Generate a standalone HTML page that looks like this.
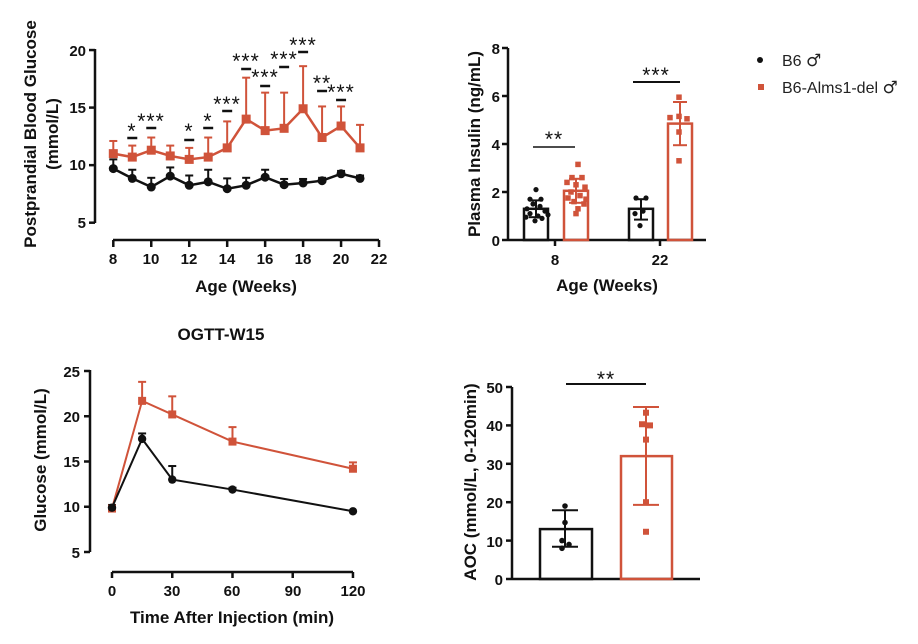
<!DOCTYPE html>
<html><head><meta charset="utf-8"><style>
html,body{margin:0;padding:0;background:#fff}
svg{display:block;font-family:"Liberation Sans",Arial,sans-serif}
.t{font-weight:bold;font-size:15px;fill:#111}
.l{font-weight:bold;font-size:17px;fill:#111}
.s{font-size:21px;fill:#111;text-anchor:middle;letter-spacing:1px}
</style></head><body>
<svg id="c" width="918" height="644" viewBox="0 0 918 644" xmlns="http://www.w3.org/2000/svg">
<g class="t" text-anchor="end">
<text x="86" y="56">20</text><text x="86" y="113">15</text><text x="86" y="170">10</text><text x="86" y="228">5</text>
</g>
<g class="t" text-anchor="middle">
<text x="113" y="264">8</text><text x="151" y="264">10</text><text x="189" y="264">12</text><text x="227" y="264">14</text><text x="265" y="264">16</text><text x="303" y="264">18</text><text x="341" y="264">20</text><text x="379" y="264">22</text>
</g>
<text class="l" x="246" y="292" text-anchor="middle">Age (Weeks)</text>
<text class="l" transform="translate(36,134) rotate(-90)" text-anchor="middle">Postprandial Blood Glucose</text>
<text class="l" transform="translate(58,134) rotate(-90)" text-anchor="middle">(mmol/L)</text>
<g class="s">
<text x="132" y="138">*</text><text x="151" y="128">***</text><text x="189" y="138">*</text><text x="208" y="128">*</text><text x="227" y="111">***</text><text x="246" y="68">***</text><text x="265" y="84">***</text><text x="284" y="66">***</text><text x="303" y="52">***</text><text x="322" y="90">**</text><text x="341" y="99">***</text>
</g>
<g class="t" text-anchor="end">
<text x="500" y="54">8</text><text x="500" y="102">6</text><text x="500" y="150">4</text><text x="500" y="198">2</text><text x="500" y="246">0</text>
</g>
<g class="t" text-anchor="middle"><text x="555" y="265">8</text><text x="660" y="265">22</text></g>
<text class="l" x="607" y="291" text-anchor="middle">Age (Weeks)</text>
<text class="l" transform="translate(480,144) rotate(-90)" text-anchor="middle">Plasma Insulin (ng/mL)</text>
<g class="s"><text x="554" y="146">**</text><text x="656" y="82">***</text></g>
<circle cx="760" cy="60" r="3" fill="#111"/>
<rect x="758" y="84" width="6" height="6" fill="#d0533a"/>
<text x="782" y="66" font-size="16" fill="#222">B6 <tspan font-family="DejaVu Sans" font-size="17">♂</tspan></text>
<text x="782" y="93" font-size="16" fill="#222">B6-Alms1-del <tspan font-family="DejaVu Sans" font-size="17">♂</tspan></text>
<text class="l" x="221" y="340" text-anchor="middle">OGTT-W15</text>
<g class="t" text-anchor="end">
<text x="80" y="377">25</text><text x="80" y="422">20</text><text x="80" y="467">15</text><text x="80" y="512">10</text><text x="80" y="558">5</text>
</g>
<g class="t" text-anchor="middle">
<text x="112" y="596">0</text><text x="172" y="596">30</text><text x="232" y="596">60</text><text x="293" y="596">90</text><text x="353" y="596">120</text>
</g>
<text class="l" x="232" y="623" text-anchor="middle">Time After Injection (min)</text>
<text class="l" transform="translate(46,460) rotate(-90)" text-anchor="middle">Glucose (mmol/L)</text>
<g class="t" text-anchor="end">
<text x="503" y="393">50</text><text x="503" y="431">40</text><text x="503" y="470">30</text><text x="503" y="508">20</text><text x="503" y="547">10</text><text x="503" y="585">0</text>
</g>
<text class="s" x="606" y="386">**</text>
<text class="l" transform="translate(476,482) rotate(-90)" text-anchor="middle">AOC (mmol/L, 0-120min)</text>
<g id="g"></g>
</svg>
<script>
const O="#d0533a",K="#111";let h="";
const L=(a,b,c,d,col,w)=>h+=`<line x1="${a}" y1="${b}" x2="${c}" y2="${d}" stroke="${col}" stroke-width="${w||2}"/>`;
const C=(x,y,r,col)=>h+=`<circle cx="${x}" cy="${y}" r="${r}" fill="${col}"/>`;
const S=(x,y,s,col)=>h+=`<rect x="${x-s/2}" y="${y-s/2}" width="${s}" height="${s}" fill="${col}"/>`;
const P=(pts,col,w)=>h+=`<polyline points="${pts.map(p=>p.join(',')).join(' ')}" fill="none" stroke="${col}" stroke-width="${w||2.5}"/>`;
let y1=v=>222.7-(v-5)*11.51,x1=w=>113.3+(w-8)*18.98;
L(95,49,95,223,K,2.5);[5,10,15,20].forEach(v=>L(89,y1(v),95,y1(v),K,2.5));
L(113,240,379,240,K,2.5);for(let w=8;w<=22;w+=2)L(x1(w),240,x1(w),247,K,2.5);
const o=[11,10.7,11.3,10.8,10.5,10.7,11.5,14,13,13.2,14.9,12.4,13.4,11.5],ot=[12.1,11.7,12.4,11.7,11.5,12.4,13.8,17.6,16.3,16.3,18.6,15.1,15.1,13.5];
const b=[9.7,8.85,8.1,9.05,8.25,8.55,7.95,8.25,8.95,8.3,8.45,8.65,9.25,8.85],bt=[10.5,9.6,8.9,9.8,9.1,9.6,8.85,8.9,9.6,8.8,8.8,8.9,9.5,9.1];
o.forEach((v,i)=>{let x=x1(8+i);L(x,y1(v),x,y1(ot[i]),O);L(x-4,y1(ot[i]),x+4,y1(ot[i]),O)});
b.forEach((v,i)=>{let x=x1(8+i);L(x,y1(v),x,y1(bt[i]),K);L(x-4,y1(bt[i]),x+4,y1(bt[i]),K)});
P(o.map((v,i)=>[x1(8+i),y1(v)]),O);P(b.map((v,i)=>[x1(8+i),y1(v)]),K);
o.forEach((v,i)=>S(x1(8+i),y1(v),9,O));b.forEach((v,i)=>C(x1(8+i),y1(v),4.5,K));
[[9,138],[10,128],[12,140],[13,128],[14,111],[15,69],[16,86],[17,67],[18,52],[19,91],[20,100]].forEach(([w,y])=>L(x1(w)-5,y,x1(w)+5,y,K,2.5));
let y2=v=>240-v*24;
L(508,48,508,240,K,2.5);[0,2,4,6,8].forEach(v=>L(502,y2(v),508,y2(v),K,2.5));
L(508,240,706,240,K,2.5);L(555,240,555,246,K,2.5);L(660,240,660,246,K,2.5);
h+=`<rect x="524" y="${y2(1.3)}" width="24" height="${1.3*24}" fill="none" stroke="${K}" stroke-width="2.5"/>`;
h+=`<rect x="564" y="${y2(2.05)}" width="24" height="${2.05*24}" fill="none" stroke="${O}" stroke-width="2.5"/>`;
h+=`<rect x="629" y="${y2(1.3)}" width="24" height="${1.3*24}" fill="none" stroke="${K}" stroke-width="2.5"/>`;
h+=`<rect x="668" y="${y2(4.85)}" width="24" height="${4.85*24}" fill="none" stroke="${O}" stroke-width="2.5"/>`;
const eb=(x,lo,hi,col)=>{L(x,y2(lo),x,y2(hi),col);L(x-7,y2(lo),x+7,y2(lo),col);L(x-7,y2(hi),x+7,y2(hi),col)};
eb(536,0.95,1.65,K);eb(576,1.55,2.55,O);eb(641,0.85,1.7,K);eb(680,3.95,5.75,O);
[[536,2.1],[530,1.7],[541,1.7],[533,1.5],[540,1.4],[527,1.3],[545,1.2],[530,1.1],[538,1.0],[548,1.05],[526,0.95],[535,0.8],[542,0.9]].forEach(p=>C(p[0],y2(p[1]),2.6,K));
[[578,3.15],[572,2.6],[582,2.6],[567,2.4],[576,2.3],[585,2.2],[571,2.0],[580,1.85],[568,1.75],[586,1.7],[574,1.6],[578,1.3],[576,1.1],[584,1.5]].forEach(p=>S(p[0],y2(p[1]),5.5,O));
[[636,1.75],[646,1.75],[643,1.2],[635,1.1],[640,0.6]].forEach(p=>C(p[0],y2(p[1]),2.6,K));
[[679,5.95],[670,5.1],[679,5.15],[687,5.05],[679,4.5],[679,3.3]].forEach(p=>S(p[0],y2(p[1]),5.5,O));
L(533,147,575,147,K,1.5);L(633,82,680,82,K,2);
let y3=v=>552-(v-5)*9.05,x3=t=>112+t*2.008;
L(90,370,90,552,K,2.5);[5,10,15,20,25].forEach(v=>L(84,y3(v),90,y3(v),K,2.5));
L(112,572,353,572,K,2.5);[0,30,60,90,120].forEach(t=>L(x3(t),572,x3(t),578,K,2.5));
const T=[0,15,30,60,120],go=[9.8,21.7,20.2,17.2,14.2],got=[null,23.8,22.2,18.8,14.9],gb=[9.9,17.5,13,11.9,9.5],gbt=[10.2,18.1,14.5,12.1,null];
T.forEach((t,i)=>{if(got[i]){L(x3(t),y3(go[i]),x3(t),y3(got[i]),O);L(x3(t)-4,y3(got[i]),x3(t)+4,y3(got[i]),O)}
 if(gbt[i]){L(x3(t),y3(gb[i]),x3(t),y3(gbt[i]),K);L(x3(t)-4,y3(gbt[i]),x3(t)+4,y3(gbt[i]),K)}});
P(T.map((t,i)=>[x3(t),y3(go[i])]),O,2);P(T.map((t,i)=>[x3(t),y3(gb[i])]),K,2);
T.forEach((t,i)=>S(x3(t),y3(go[i]),8,O));T.forEach((t,i)=>C(x3(t),y3(gb[i]),4.2,K));
let y4=v=>579-v*3.84;
L(512,387,512,579,K,2.5);[0,10,20,30,40,50].forEach(v=>L(506,y4(v),512,y4(v),K,2.5));
L(512,579,700,579,K,2.5);
h+=`<rect x="540" y="${y4(13)}" width="52" height="${13*3.84}" fill="none" stroke="${K}" stroke-width="2.5"/>`;
h+=`<rect x="621" y="${y4(32)}" width="51" height="${32*3.84}" fill="none" stroke="${O}" stroke-width="2.5"/>`;
const e4=(x,lo,hi,col)=>{L(x,y4(lo),x,y4(hi),col);L(x-13,y4(lo),x+13,y4(lo),col);L(x-13,y4(hi),x+13,y4(hi),col)};
e4(565,8.4,17.9,K);e4(646,19.3,44.8,O);
[[565,19],[565,14.7],[562,10],[569,9],[562,8]].forEach(p=>C(p[0],y4(p[1]),2.8,K));
[[646,43.3],[642,40.3],[650,40],[646,36.3],[646,20],[646,12.3]].forEach(p=>S(p[0],y4(p[1]),6,O));
L(566,384,646,384,K,2);
document.getElementById("g").innerHTML=h;
</script>
</body></html>
